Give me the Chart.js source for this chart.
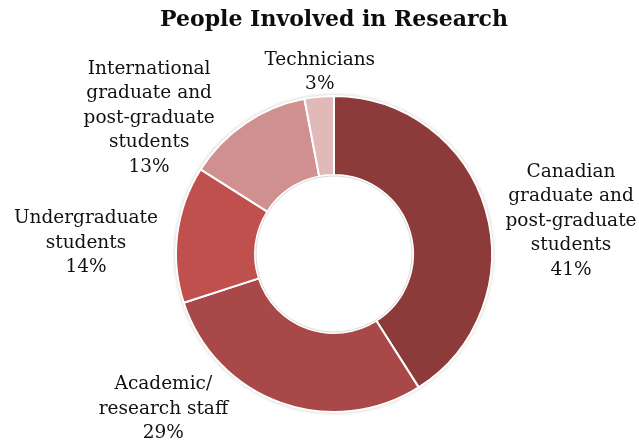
<!DOCTYPE html>
<html lang="en">
<head>
<meta charset="UTF-8">
<title>People Involved in Research</title>
<script src="https://cdn.jsdelivr.net/npm/chart.js"></script>
<style>
    body { margin: 0; background: #fff; }
    #wrap { width: 639px; height: 441px; position: relative; }
</style>
</head>
<body>
<div id="wrap"><canvas id="chart"></canvas></div>
<script>
    // data
    const chartTitle = 'People Involved in Research';
    const categories = [
        ['Canadian', 'graduate and', 'post-graduate', 'students'],
        ['Academic/', 'research staff'],
        ['Undergraduate', 'students'],
        ['International', 'graduate and', 'post-graduate', 'students'],
        ['Technicians']
    ];
    const shares = [41, 29, 14, 13, 3];
    const sliceColors = ['#8c3a3a', '#a84848', '#c0504d', '#d09090', '#e2b9b9'];

    // label centres, relative to the doughnut centre, in outer radii
    const labelSpots = [[1.50, -0.21], [-1.08, 0.98], [-1.57, -0.07], [-1.17, -0.86], [-0.09, -1.15]];

    // soft grey edge behind the ring
    const ringShadow = {
        id: 'ringShadow',
        beforeDatasetsDraw(chart) {
            const arc = chart.getDatasetMeta(0).data[0];
            if (!arc) return;
            const { x, y, outerRadius } = arc.getProps(['x', 'y', 'outerRadius'], true);
            const ctx = chart.ctx;
            ctx.save();
            ctx.shadowColor = 'rgba(0,0,0,0.35)';
            ctx.shadowBlur = 4;
            ctx.fillStyle = '#ffffff';
            ctx.beginPath();
            ctx.arc(x, y, outerRadius, 0, Math.PI * 2);
            ctx.fill();
            ctx.restore();
        },
        afterDatasetsDraw(chart) {
            const arc = chart.getDatasetMeta(0).data[0];
            if (!arc) return;
            const { x, y, innerRadius } = arc.getProps(['x', 'y', 'innerRadius'], true);
            const ctx = chart.ctx;
            ctx.save();
            ctx.strokeStyle = 'rgba(0,0,0,0.15)';
            ctx.lineWidth = 1;
            ctx.beginPath();
            ctx.arc(x, y, innerRadius - 1, 0, Math.PI * 2);
            ctx.stroke();
            ctx.restore();
        }
    };

    // title across the full width (the built-in one gets squeezed by the padding)
    const wideTitle = {
        id: 'wideTitle',
        afterDraw(chart) {
            const ctx = chart.ctx;
            const cx = (chart.chartArea.left + chart.chartArea.right) / 2;
            ctx.save();
            ctx.font = 'bold 22px "DejaVu Serif", serif';
            ctx.fillStyle = '#0d0d0d';
            ctx.textAlign = 'center';
            ctx.textBaseline = 'middle';
            ctx.fillText(chartTitle, cx, 20);
            ctx.restore();
        }
    };

    // category name + percentage outside each slice
    const outsideLabels = {
        id: 'outsideLabels',
        afterDatasetsDraw(chart) {
            const ctx = chart.ctx;
            const meta = chart.getDatasetMeta(0);
            const lh = 24.5;
            ctx.save();
            ctx.font = '18.5px "DejaVu Serif", serif';
            ctx.fillStyle = '#111111';
            ctx.textAlign = 'center';
            ctx.textBaseline = 'middle';
            meta.data.forEach((arc, i) => {
                const { x, y, outerRadius } = arc.getProps(['x', 'y', 'outerRadius'], true);
                const lines = chart.data.labels[i].concat(chart.data.datasets[0].data[i] + '%');
                const cx = x + labelSpots[i][0] * outerRadius;
                const cy = y + labelSpots[i][1] * outerRadius;
                lines.forEach((t, k) => {
                    ctx.fillText(t, cx, cy + (k - (lines.length - 1) / 2) * lh);
                });
            });
            ctx.restore();
        }
    };

    new Chart(document.getElementById('chart'), {
        type: 'doughnut',
        data: {
            labels: categories,
            datasets: [{
                data: shares,
                backgroundColor: sliceColors,
                borderColor: '#ffffff',
                borderWidth: 2
            }]
        },
        options: {
            responsive: true,
            maintainAspectRatio: false,
            animation: false,
            cutout: '50%',
            layout: { padding: { top: 95, left: 175, right: 146, bottom: 28 } },
            plugins: {
                legend: { display: false },
                tooltip: { enabled: false },
                title: { display: false }
            }
        },
        plugins: [ringShadow, outsideLabels, wideTitle]
    });
</script>
</body>
</html>
